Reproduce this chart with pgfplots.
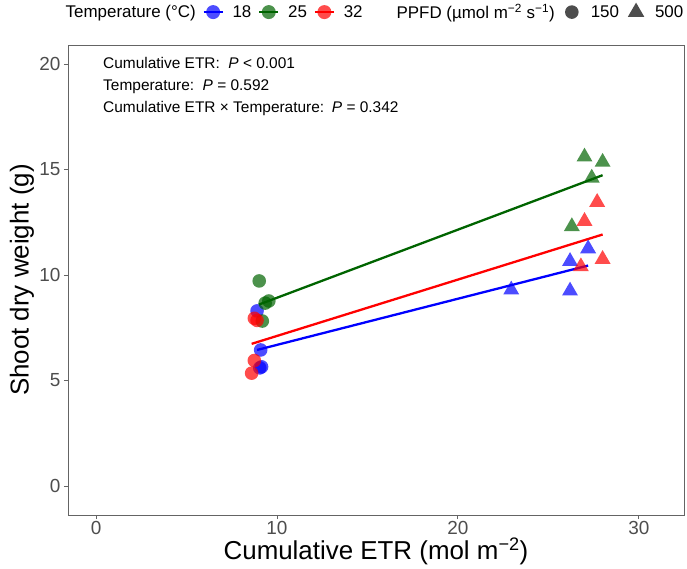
\documentclass[border=0pt]{standalone}
\usepackage{pgfplots}
\pgfplotsset{compat=1.18}
\usepackage{fontspec}
\setmainfont{Liberation Sans}
\definecolor{dgreen}{RGB}{0,100,0}
\definecolor{tickgray}{RGB}{77,77,77}
\definecolor{framegray}{RGB}{100,100,100}
\definecolor{keygray}{RGB}{77,77,77}
\begin{document}
\begin{tikzpicture}
\useasboundingbox (-68bp,-54bp) rectangle (619bp,515bp);
\begin{axis}[
  scale only axis, width=616bp, height=470bp,
  xmin=-1.55, xmax=32.5, ymin=-1.37, ymax=20.9,
  xtick={0,10,20,30}, ytick={0,5,10,15,20},
  tick pos=left, tick align=outside, major tick length=4bp,
  axis line style={framegray, line width=0.8bp},
  tick style={framegray, line width=0.8bp},
  ticklabel style={font=\fontsize{19}{22}\selectfont, text=tickgray},
  xticklabel style={inner sep=2bp},
  /pgf/number format/assume math mode=true,
  xlabel={Cumulative ETR (mol m\textsuperscript{−2})},
  ylabel={Shoot dry weight (g)},
  label style={font=\fontsize{26}{30}\selectfont},
  xlabel style={at={(axis description cs:0.5,-0.0957)}, anchor=base, inner sep=0pt},
  ylabel style={at={(axis description cs:-0.0747,0.5)}, anchor=center},
  legend columns=-1,
  legend style={draw=none, fill=none, at={(axis description cs:0.4919,1.07)}, anchor=center,
    font=\fontsize{17}{20}\selectfont,
    /tikz/every odd column/.append style={column sep=7bp},
    /tikz/every even column/.append style={column sep=5bp}},
]
% blue 18 C
\addplot[forget plot, only marks, mark=*, mark size=6.8bp, mark options={blue, draw opacity=0, fill opacity=0.7}] coordinates {
 (8.9,8.3) (9.1,6.45) (9.05,5.6) (9.15,5.65)};
\addplot[forget plot, only marks, mark=triangle*, mark size=9.2bp, mark options={blue, draw opacity=0, fill opacity=0.7}] coordinates {
 (22.95,9.3) (26.2,10.65) (26.2,9.25) (27.2,11.25)};
% green 25 C
\addplot[forget plot, only marks, mark=*, mark size=6.8bp, mark options={dgreen, draw opacity=0, fill opacity=0.7}] coordinates {
 (9.02,9.72) (9.35,8.67) (9.55,8.77) (9.19,7.82)};
\addplot[forget plot, only marks, mark=triangle*, mark size=9.2bp, mark options={dgreen, draw opacity=0, fill opacity=0.7}] coordinates {
 (27.0,15.6) (27.4,14.6) (28.0,15.35) (26.3,12.3)};
% red 32 C
\addplot[forget plot, only marks, mark=*, mark size=6.8bp, mark options={red, draw opacity=0, fill opacity=0.7}] coordinates {
 (8.75,7.95) (8.9,7.85) (8.75,5.95) (8.6,5.35)};
\addplot[forget plot, only marks, mark=triangle*, mark size=9.2bp, mark options={red, draw opacity=0, fill opacity=0.7}] coordinates {
 (27.0,12.55) (27.7,13.45) (26.8,10.4) (28.0,10.75)};
% fitted lines
\addplot[forget plot, blue, line width=2.3bp] coordinates {(8.9,6.45) (27.2,10.45)};
\addplot[forget plot, dgreen, line width=2.3bp] coordinates {(9.0,8.6) (28.0,14.73)};
\addplot[forget plot, red, line width=2.3bp] coordinates {(8.6,6.74) (28.0,11.92)};
% legend
\addlegendimage{empty legend}
\addlegendentry{Temperature (°C)}
\addlegendimage{blue, line width=1.8bp, mark=*, mark size=7bp, mark options={draw opacity=0, fill opacity=0.7},
  legend image code/.code={\draw[mark repeat=2, mark phase=2] plot coordinates {(0bp,0bp) (9.5bp,0bp) (19bp,0bp)};}}
\addlegendentry{18}
\addlegendimage{dgreen, line width=1.8bp, mark=*, mark size=7bp, mark options={draw opacity=0, fill opacity=0.7},
  legend image code/.code={\draw[mark repeat=2, mark phase=2] plot coordinates {(0bp,0bp) (9.5bp,0bp) (19bp,0bp)};}}
\addlegendentry{25}
\addlegendimage{red, line width=1.8bp, mark=*, mark size=7bp, mark options={draw opacity=0, fill opacity=0.7},
  legend image code/.code={\draw[mark repeat=2, mark phase=2] plot coordinates {(0bp,0bp) (9.5bp,0bp) (19bp,0bp)};}}
\addlegendentry{32\hspace*{18bp}}
\addlegendimage{empty legend}
\addlegendentry{PPFD (µmol m\textsuperscript{−2} s\textsuperscript{−1})}
\addlegendimage{only marks, keygray, mark=*, mark size=6.8bp, mark options={draw opacity=0},
  legend image code/.code={\path[draw=none, fill=none] (0bp,0bp) -- (20bp,0bp); \draw plot coordinates {(10bp,0bp)};}}
\addlegendentry{150}
\addlegendimage{only marks, keygray, mark=triangle*, mark size=9.5bp, mark options={draw opacity=0},
  legend image code/.code={\path[draw=none, fill=none] (0bp,0bp) -- (20bp,0bp); \draw plot coordinates {(10bp,0bp)};}}
\addlegendentry{500}
% annotations
\node[anchor=west, font=\fontsize{15.5}{18}\selectfont] at (axis description cs:0.0515,0.962) {Cumulative ETR:\hspace{0.55em}\textit{P} < 0.001};
\node[anchor=west, font=\fontsize{15.5}{18}\selectfont] at (axis description cs:0.0515,0.912) {Temperature:\hspace{0.55em}\textit{P} = 0.592};
\node[anchor=west, font=\fontsize{15.5}{18}\selectfont] at (axis description cs:0.0515,0.864) {Cumulative ETR × Temperature:\hspace{0.5em}\textit{P} = 0.342};
\end{axis}
\end{tikzpicture}
\end{document}
